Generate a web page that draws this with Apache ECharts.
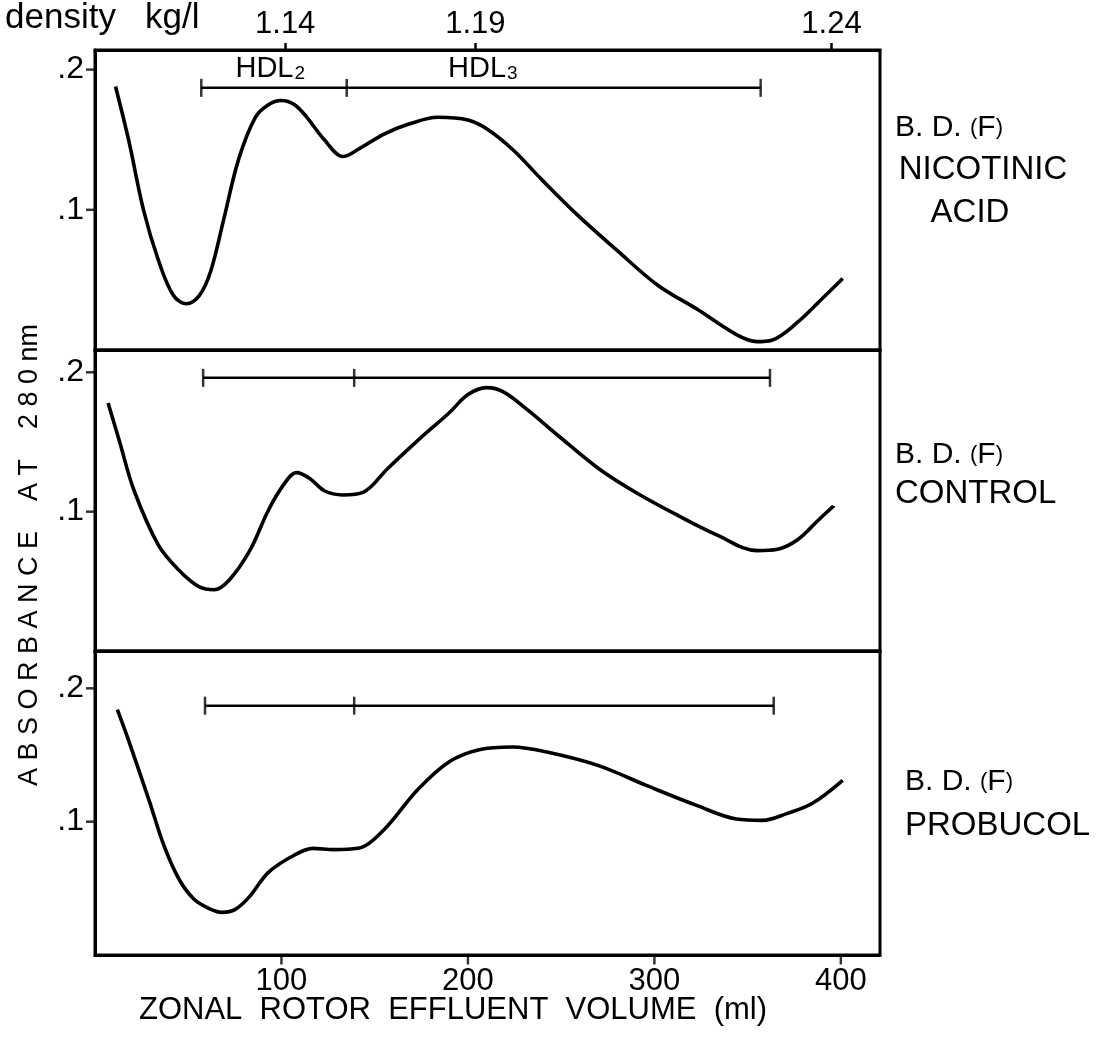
<!DOCTYPE html>
<html><head><meta charset="utf-8">
<script src="https://cdn.jsdelivr.net/npm/echarts@6/dist/echarts.min.js"></script>
<style>html,body{margin:0;padding:0;background:#fff}#c{width:1099px;height:1038px}</style>
</head><body><div id="c"></div><script>
// Panel 1: B.D. (F) nicotinic acid
const nicVol = [11, 18, 26, 34, 42, 49, 56, 62, 69, 77, 86, 93, 100, 107, 113, 123, 133, 141, 155, 168, 184, 200, 211, 224, 240, 259, 280, 302, 323, 344, 355, 363, 377, 388, 401];
const nicAbs = [0.188, 0.150, 0.100, 0.064, 0.039, 0.033, 0.039, 0.056, 0.093, 0.136, 0.166, 0.175, 0.178, 0.175, 0.167, 0.150, 0.138, 0.143, 0.154, 0.161, 0.166, 0.164, 0.157, 0.143, 0.121, 0.096, 0.071, 0.046, 0.029, 0.011, 0.006, 0.007, 0.020, 0.034, 0.051];
// Panel 2: B.D. (F) control
const conVol = [7, 13, 21, 34, 45, 56, 64, 72, 83, 93, 101, 108, 115, 123, 133, 144, 157, 173, 190, 200, 210, 219, 232, 248, 270, 291, 313, 334, 355, 366, 377, 388, 396];
const conAbs = [0.178, 0.151, 0.115, 0.076, 0.058, 0.046, 0.044, 0.051, 0.072, 0.101, 0.119, 0.128, 0.124, 0.115, 0.112, 0.114, 0.131, 0.151, 0.171, 0.184, 0.189, 0.186, 0.173, 0.155, 0.131, 0.113, 0.097, 0.083, 0.072, 0.073, 0.080, 0.094, 0.104];
// Panel 3: B.D. (F) probucol
const proVol = [12, 18, 29, 37, 45, 53, 61, 68, 75, 83, 93, 107, 117, 128, 141, 155, 173, 190, 206, 224, 243, 270, 296, 323, 344, 358, 371, 385, 401];
const proAbs = [0.184, 0.161, 0.116, 0.082, 0.057, 0.042, 0.035, 0.032, 0.034, 0.044, 0.062, 0.075, 0.080, 0.079, 0.080, 0.094, 0.124, 0.145, 0.154, 0.156, 0.152, 0.142, 0.127, 0.112, 0.102, 0.101, 0.106, 0.114, 0.131];
// HDL fraction bars (start, HDL2/HDL3 boundary, end) per panel, and bar heights
const hdlVol1 = [57, 135, 357];
const hdlVol2 = [58, 139, 362];
const hdlVol3 = [59, 139, 364];
const hdlAbs = [0.187, 0.196, 0.187];
const hdlNames = ['HDL2', 'HDL3'];
const hdlNameVol = [94, 208];
// Density scale (top axis)
const densityVol = [102, 204, 395];
const densityLabels = ['1.14', '1.19', '1.24'];
// Axis ticks and tick labels
const volTickVals = [100, 200, 300, 400];
const volTicks = ['100', '200', '300', '400'];
const absTickVals = [0.1, 0.2];
const absTicks = ['.1', '.2'];
const panelNames = [['B. D.', 'NICOTINIC', 'ACID'], ['B. D.', 'CONTROL'], ['B. D.', 'PROBUCOL']];

const FONT = 'Liberation Sans';
const zip = (a, b) => a.map((v, i) => [v, b[i]]);
const yMax = [0.214, 0.216, 0.228];
const grids = [
  {left: 95, top: 50, width: 785, height: 300},
  {left: 95, top: 350, width: 785, height: 301},
  {left: 95, top: 651, width: 785, height: 304}
].map(g => Object.assign(g, {show: true, borderColor: '#000', borderWidth: 3, backgroundColor: 'transparent'}));

const xAxes = [0, 1, 2].map(i => ({
  type: 'value', gridIndex: i, min: 0, max: 421, interval: 100,
  splitLine: {show: false},
  axisLine: {show: true, onZero: false, lineStyle: {color: '#000', width: 3}},
  axisTick: {show: false},
  axisLabel: {show: i === 2, color: '#000', fontFamily: FONT, fontSize: 31, margin: 11,
    formatter: v => { const k = volTicks.indexOf(String(v)); return k >= 0 ? volTicks[k] : ''; }}
}));
xAxes.push({
  type: 'value', gridIndex: 0, position: 'top', min: 0, max: 421,
  splitLine: {show: false},
  axisLine: {show: true, onZero: false, lineStyle: {color: '#000', width: 3}},
  axisTick: {show: true, inside: false, length: 7, customValues: densityVol, lineStyle: {color: '#000', width: 2.5}},
  axisLabel: {show: true, color: '#000', fontFamily: FONT, fontSize: 31, margin: 10, customValues: densityVol,
    formatter: v => { const k = densityVol.indexOf(v); return k >= 0 ? densityLabels[k] : ''; }}
});

const yAxes = [0, 1, 2].map(i => ({
  type: 'value', gridIndex: i, min: 0, max: yMax[i], interval: 0.1,
  splitLine: {show: false},
  axisLine: {show: true, lineStyle: {color: '#000', width: 3}},
  axisTick: {show: false},
  axisLabel: {color: '#000', fontFamily: FONT, fontSize: 32, margin: 11, showMaxLabel: false,
    formatter: v => { const k = Math.round(v * 10) - 1; return (k >= 0 && k < absTicks.length) ? absTicks[k] : ''; }}
}));

const curve = (i, data) => ({
  type: 'line', xAxisIndex: i, yAxisIndex: i, data: data, smooth: 0.35, showSymbol: false,
  lineStyle: {color: '#000', width: 3.6}, silent: true, z: 3
});
const hdlBar = (i, vols) => ({
  type: 'line', xAxisIndex: i, yAxisIndex: i, data: [[vols[0], hdlAbs[i]], [vols[2], hdlAbs[i]]],
  showSymbol: false, lineStyle: {color: '#000', width: 2.5}, silent: true
});
const hdlTicks = (i, vols) => ({
  type: 'scatter', xAxisIndex: i, yAxisIndex: i, data: vols.map(v => [v, hdlAbs[i]]),
  symbol: 'rect', symbolSize: [2.5, 18], itemStyle: {color: '#000'}, silent: true
});
// outward axis tick marks placed through the axes' scales
const xTickMarks = {
  type: 'scatter', xAxisIndex: 2, yAxisIndex: 2, clip: false, silent: true,
  data: volTickVals.map(v => [v, 0]),
  symbol: 'rect', symbolSize: [2.5, 9], symbolOffset: [0, 5], itemStyle: {color: '#000'}
};
const yTickMarks = i => ({
  type: 'scatter', xAxisIndex: i, yAxisIndex: i, clip: false, silent: true,
  data: absTickVals.map(v => [0, v]),
  symbol: 'rect', symbolSize: [8, 2.5], symbolOffset: [-5, 0], itemStyle: {color: '#000'}
});

const series = [
  curve(0, zip(nicVol, nicAbs)), curve(1, zip(conVol, conAbs)), curve(2, zip(proVol, proAbs)),
  hdlBar(0, hdlVol1), hdlBar(1, hdlVol2), hdlBar(2, hdlVol3),
  hdlTicks(0, hdlVol1), hdlTicks(1, hdlVol2), hdlTicks(2, hdlVol3),
  xTickMarks, yTickMarks(0), yTickMarks(1), yTickMarks(2),
  {
    type: 'scatter', xAxisIndex: 0, yAxisIndex: 0, symbolSize: 1, silent: true,
    itemStyle: {color: '#000', opacity: 0},
    data: hdlNameVol.map((v, k) => ({value: [v, hdlAbs[0]], name: hdlNames[k]})),
    label: {show: true, position: 'top', distance: 4, color: '#000', opacity: 1,
      formatter: p => '{m|' + p.name.slice(0, 3) + '}{s|' + p.name.slice(3) + '}',
      rich: {m: {fontFamily: FONT, fontSize: 29, color: '#000'}, s: {fontFamily: FONT, fontSize: 19, color: '#000', verticalAlign: 'bottom', padding: [10, 0, 0, 1]}}}
  }
];

const txt = (x, y, text, align, size) => ({
  type: 'text', x: x, y: y,
  style: {text: text, fill: '#000', font: (size || 33) + 'px "' + FONT + '"', textAlign: align || 'left', textVerticalAlign: 'middle'}
});
const bd = (x, y) => ({
  type: 'text', x: x, y: y,
  style: {rich: {a: {fontFamily: FONT, fontSize: 30, fill: '#000'}, b: {fontFamily: FONT, fontSize: 22, fill: '#000'}},
    text: '{a|' + panelNames[0][0] + ' }{b|(}{a|F}{b|)}', textVerticalAlign: 'middle'}
});

const graphic = [
  txt(5, 18, 'density   kg/l', 'left', 35),
  bd(895, 128), txt(983, 170, panelNames[0][1], 'center', 33), txt(970, 213, panelNames[0][2], 'center', 33),
  bd(895, 455), txt(895, 494, panelNames[1][1], 'left', 33),
  bd(905, 782), txt(905, 826, panelNames[2][1], 'left', 33),
  txt(453, 1010, 'ZONAL  ROTOR  EFFLUENT  VOLUME  (ml)', 'center', 31),
  {type: 'text', x: 30, y: 555, rotation: Math.PI / 2,
   style: {text: 'A B S O R B A N C E    A T    2 8 0 nm', fill: '#000', font: '27px "' + FONT + '"', textAlign: 'center', textVerticalAlign: 'middle'}}
];

const chart = echarts.init(document.getElementById('c'), null, {renderer: 'canvas'});
chart.setOption({
  animation: false, backgroundColor: '#fff',
  grid: grids, xAxis: xAxes, yAxis: yAxes, series: series, graphic: graphic
});
</script></body></html>
